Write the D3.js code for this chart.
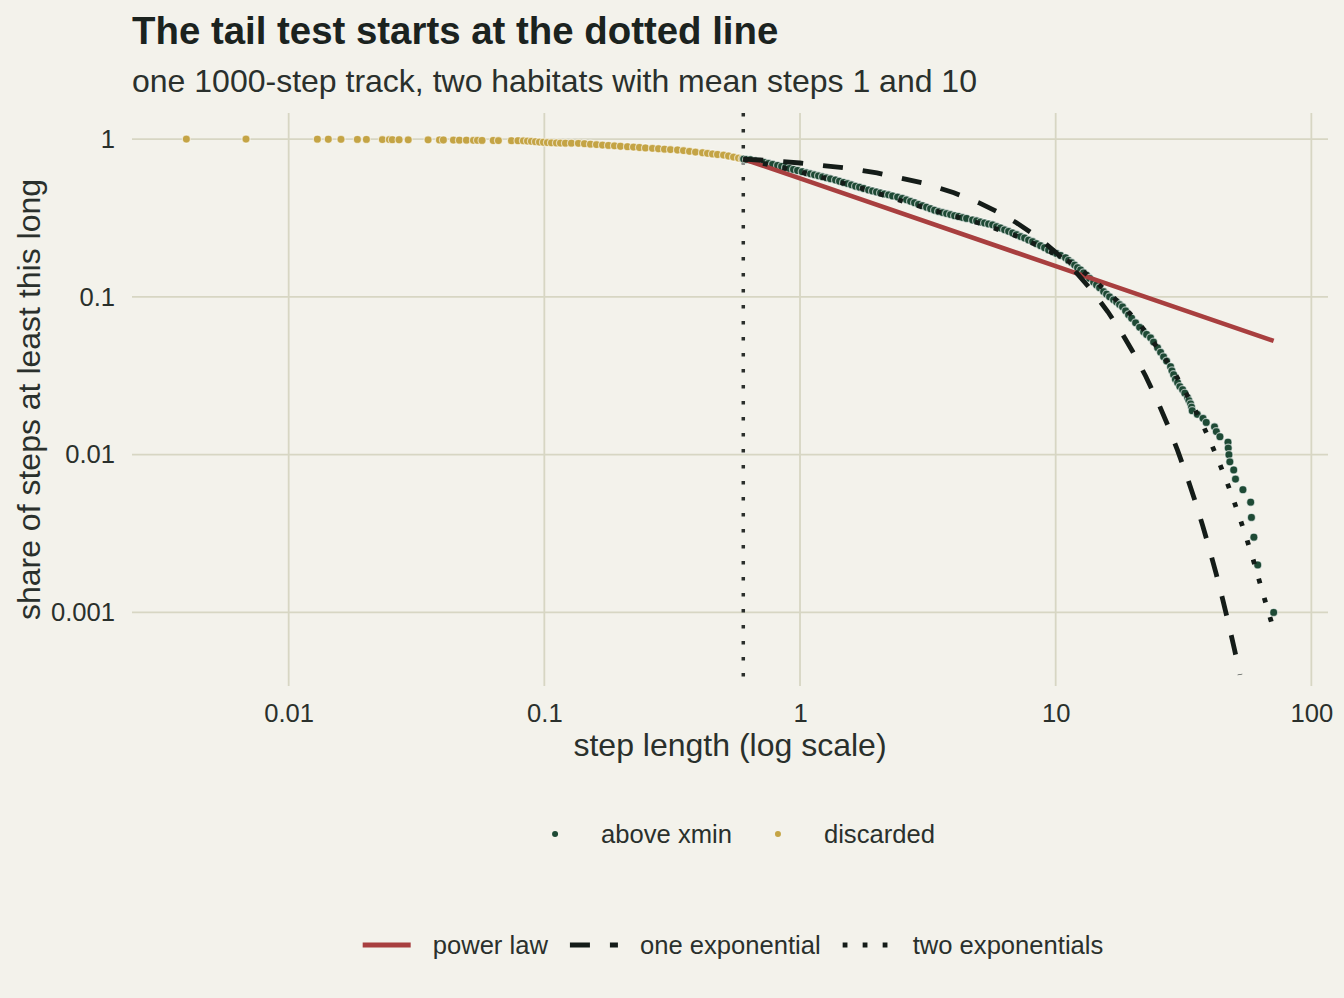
<!DOCTYPE html>
<html>
<head>
<meta charset="utf-8">
<script src="https://cdn.jsdelivr.net/npm/d3@7"></script>
<style>
  body { margin: 0; background: #f3f2eb; }
  svg { display: block; font-family: "Liberation Sans", Arial, Helvetica, sans-serif; }
</style>
</head>
<body>
<div id="chart"></div>
<script>
// [step length, share of steps at least this long]
const discarded = [
  [0.00398, 1.000], [0.00681, 0.999], [0.01295, 0.998], [0.01429, 0.997], [0.01602, 0.996],
  [0.01857, 0.995], [0.02014, 0.994], [0.02326, 0.993], [0.02477, 0.992], [0.02544, 0.991],
  [0.02703, 0.990], [0.02935, 0.989], [0.0351, 0.988], [0.03888, 0.987], [0.04029, 0.986],
  [0.04409, 0.985], [0.04654, 0.984], [0.04957, 0.983], [0.05281, 0.982], [0.05475, 0.981],
  [0.05706, 0.980], [0.06311, 0.979], [0.06613, 0.978], [0.07433, 0.977], [0.07888, 0.976],
  [0.0828, 0.975], [0.0859, 0.971], [0.0890, 0.967], [0.0923, 0.963], [0.0957, 0.957],
  [0.0992, 0.954], [0.1028, 0.950], [0.1066, 0.947], [0.1115, 0.945], [0.1156, 0.943],
  [0.1209, 0.942], [0.1276, 0.941], [0.1359, 0.939], [0.1435, 0.934], [0.1515, 0.928],
  [0.1599, 0.923], [0.1688, 0.916], [0.1781, 0.911], [0.1880, 0.906], [0.1985, 0.900],
  [0.2114, 0.894], [0.2232, 0.889], [0.2355, 0.884], [0.2486, 0.878], [0.2648, 0.873],
  [0.2795, 0.868], [0.2950, 0.863], [0.3114, 0.858], [0.3317, 0.852], [0.3501, 0.845],
  [0.3695, 0.836], [0.3901, 0.827], [0.4155, 0.819], [0.4346, 0.812], [0.4546, 0.805],
  [0.4756, 0.798], [0.5021, 0.792], [0.5253, 0.781], [0.5493, 0.769], [0.5746, 0.758],
  [0.594, 0.749]
];

const aboveXmin = [
  [0.602, 0.747], [0.618, 0.743], [0.640, 0.739], [0.670, 0.728], [0.694, 0.720],
  [0.726, 0.710], [0.753, 0.702], [0.781, 0.692], [0.817, 0.680], [0.847, 0.670],
  [0.878, 0.660], [0.910, 0.651], [0.943, 0.641], [0.978, 0.632], [1.020, 0.621],
  [1.060, 0.611], [1.099, 0.602], [1.139, 0.593], [1.181, 0.585], [1.225, 0.576],
  [1.270, 0.568], [1.316, 0.560], [1.377, 0.550], [1.427, 0.541], [1.480, 0.531],
  [1.534, 0.522], [1.590, 0.513], [1.649, 0.503], [1.709, 0.495], [1.772, 0.486],
  [1.854, 0.476], [1.921, 0.469], [1.992, 0.462], [2.065, 0.455], [2.141, 0.449],
  [2.220, 0.443], [2.301, 0.436], [2.407, 0.429], [2.511, 0.421], [2.610, 0.412],
  [2.706, 0.403], [2.805, 0.395], [2.908, 0.386], [3.015, 0.378], [3.126, 0.370],
  [3.241, 0.362], [3.359, 0.354], [3.483, 0.347], [3.611, 0.342], [3.743, 0.337],
  [3.880, 0.332], [4.023, 0.327], [4.171, 0.323], [4.324, 0.318], [4.482, 0.314],
  [4.731, 0.307], [4.904, 0.303], [5.084, 0.298], [5.271, 0.294], [5.464, 0.290],
  [5.665, 0.286], [5.873, 0.279], [6.088, 0.273], [6.312, 0.266], [6.543, 0.260],
  [6.784, 0.254], [7.031, 0.248], [7.290, 0.241], [7.557, 0.236], [7.834, 0.229],
  [8.121, 0.224], [8.420, 0.217], [8.729, 0.211], [9.049, 0.205], [9.380, 0.198],
  [9.725, 0.193], [10.08, 0.188], [10.45, 0.183], [10.93, 0.177], [11.23, 0.170],
  [11.54, 0.165], [11.86, 0.159], [12.18, 0.153], [12.52, 0.148], [12.86, 0.142],
  [13.21, 0.137], [13.57, 0.131], [14.07, 0.124], [14.45, 0.119], [14.85, 0.114],
  [15.40, 0.108], [15.82, 0.104], [16.25, 0.100], [16.85, 0.0958], [17.31, 0.0926],
  [17.78, 0.0894], [18.26, 0.0864], [18.77, 0.0815], [19.28, 0.0769], [19.82, 0.0732],
  [20.54, 0.0685], [21.30, 0.0641], [22.08, 0.0600], [22.68, 0.0578], [23.51, 0.0550],
  [24.15, 0.0517], [25.04, 0.0475], [25.73, 0.0445], [26.43, 0.0417], [27.16, 0.0392],
  [28.15, 0.0361], [28.5, 0.034], [28.93, 0.0321], [29.4, 0.030], [29.99, 0.0286],
  [30.6, 0.027], [31.37, 0.0258], [32.0, 0.0245], [32.81, 0.0229], [33.2, 0.022],
  [33.7, 0.021], [34.0, 0.020], [34.2, 0.019], [35.8, 0.018], [37.7, 0.017],
  [38.8, 0.016], [41.8, 0.015], [42.5, 0.014], [43.9, 0.013], [47.2, 0.012],
  [47.3, 0.011], [47.6, 0.010], [48.0, 0.009], [49.7, 0.008], [50.5, 0.007],
  [54.0, 0.006], [57.9, 0.005], [58.3, 0.004], [59.6, 0.003], [61.7, 0.002],
  [71.2, 0.001]
];

// fitted curves
const powerLaw = [[0.6, 0.747], [1, 0.563], [10, 0.1565], [71.2, 0.0526]];

const oneExp = [
  [0.6, 0.747], [0.8, 0.726], [1, 0.705], [1.5, 0.656], [2, 0.610], [3, 0.528],
  [4, 0.457], [5, 0.395], [6, 0.342], [7, 0.296], [8, 0.256], [9, 0.2215],
  [10, 0.1917], [12, 0.1435], [14, 0.1075], [16, 0.0804], [18, 0.0602], [20, 0.0451],
  [22.5, 0.0314], [25, 0.0219], [27.5, 0.01525], [30, 0.0106], [32.5, 0.00739],
  [35, 0.00515], [37.5, 0.00359], [40, 0.0025], [42.5, 0.00174], [45, 0.00121],
  [47.5, 0.000843], [50, 0.000587], [52.6, 0.000403]
];

const twoExp = [
  [0.601, 0.747], [0.878, 0.6525], [1.258, 0.564], [1.804, 0.480], [2.587, 0.398],
  [3.643, 0.339], [5.224, 0.288], [7.422, 0.235], [10.26, 0.1825], [12.18, 0.1555],
  [13.91, 0.1294], [16.01, 0.1071], [18.39, 0.0868], [20.73, 0.0705], [23.36, 0.0556],
  [25.96, 0.0436], [28.85, 0.0340], [31.57, 0.0263], [34.54, 0.0202], [37.56, 0.01555],
  [40.48, 0.01186], [43.51, 0.00899], [46.63, 0.00678], [49.66, 0.00514], [52.75, 0.00388],
  [55.84, 0.00293], [59.10, 0.00219], [62.21, 0.00164], [65.49, 0.00123], [69.31, 0.000903],
  [71.2, 0.00078]
];

const xmin = 0.6;
const xTicks = [0.01, 0.1, 1, 10, 100];
const xTickLabels = ["0.01", "0.1", "1", "10", "100"];
const yTicks = [1, 0.1, 0.01, 0.001];
const yTickLabels = ["1", "0.1", "0.01", "0.001"];
const yLimits = [5e-4, 1];

const width = 1344, height = 998;
const panel = { left: 132, right: 1328, top: 113, bottom: 686 };

const bg = "#f3f2eb", gridCol = "#d7d6c3", ink = "#1b231f", textCol = "#2a302c";
const green = "#1e4a35", gold = "#c4a445", red = "#a83f3f", dark = "#141c18";

// ggplot-style 5% expansion, in log space
function expandLog(lo, hi, mult) {
  const a = Math.log10(lo), b = Math.log10(hi), pad = (b - a) * mult;
  return [Math.pow(10, a - pad), Math.pow(10, b + pad)];
}

const allX = discarded.concat(aboveXmin).map(d => d[0]);
const x = d3.scaleLog()
  .domain(expandLog(d3.min(allX), d3.max(allX), 0.05))
  .range([panel.left, panel.right]);
const y = d3.scaleLog()
  .domain(expandLog(yLimits[0], yLimits[1], 0.05))
  .range([panel.bottom, panel.top]);

const svg = d3.select("#chart")
  .append("svg")
  .attr("width", width)
  .attr("height", height);

svg.append("rect").attr("width", width).attr("height", height).attr("fill", bg);

svg.append("clipPath").attr("id", "panel-clip")
  .append("rect")
  .attr("x", panel.left).attr("y", panel.top)
  .attr("width", panel.right - panel.left)
  .attr("height", panel.bottom - panel.top);

// grid
const grid = svg.append("g").attr("stroke", gridCol).attr("stroke-width", 1.8);
grid.selectAll("line.v").data(xTicks).join("line")
  .attr("class", "v")
  .attr("x1", d => x(d)).attr("x2", d => x(d))
  .attr("y1", panel.top).attr("y2", panel.bottom);
grid.selectAll("line.h").data(yTicks).join("line")
  .attr("class", "h")
  .attr("x1", panel.left).attr("x2", panel.right)
  .attr("y1", d => y(d)).attr("y2", d => y(d));

// axes (labels only)
const xAxis = svg.append("g")
  .attr("transform", `translate(0,${panel.bottom})`)
  .call(d3.axisBottom(x).tickValues(xTicks).tickFormat((d, i) => xTickLabels[i]).tickSize(0).tickPadding(18));
const yAxis = svg.append("g")
  .attr("transform", `translate(${panel.left},0)`)
  .call(d3.axisLeft(y).tickValues(yTicks).tickFormat((d, i) => yTickLabels[i]).tickSize(0).tickPadding(17));
[xAxis, yAxis].forEach(g => {
  g.select(".domain").remove();
  g.attr("font-family", null).attr("font-size", null);
  g.selectAll("text").attr("font-size", 25.6).attr("fill", textCol);
});

// xmin marker
svg.append("line")
  .attr("x1", x(xmin)).attr("x2", x(xmin))
  .attr("y1", panel.top).attr("y2", panel.bottom)
  .attr("stroke", "#2b2f2c")
  .attr("stroke-width", 3.5)
  .attr("stroke-dasharray", "3.5,12.5");

// points
const pts = svg.append("g").attr("clip-path", "url(#panel-clip)");
function drawPoints(data, fill) {
  pts.append("g")
    .selectAll("circle")
    .data(data)
    .join("circle")
    .attr("cx", d => x(d[0]))
    .attr("cy", d => y(d[1]))
    .attr("r", 4)
    .attr("fill", fill)
    .attr("stroke", "#ffffff")
    .attr("stroke-opacity", 0.6)
    .attr("stroke-width", 1.2);
}
drawPoints(discarded, gold);
drawPoints(aboveXmin, green);

// fitted lines
const line = d3.line().x(d => x(d[0])).y(d => y(d[1]));
const fits = svg.append("g").attr("clip-path", "url(#panel-clip)").attr("fill", "none");
fits.append("path").datum(powerLaw).attr("d", line)
  .attr("stroke", red).attr("stroke-width", 4.6);
fits.append("path").datum(oneExp).attr("d", line)
  .attr("stroke", dark).attr("stroke-width", 4.8).attr("stroke-dasharray", "20,20");
fits.append("path").datum(twoExp).attr("d", line)
  .attr("stroke", dark).attr("stroke-width", 4.8).attr("stroke-dasharray", "4.8,15.2");

// titles
svg.append("text").attr("x", 132).attr("y", 44)
  .attr("font-size", 38.4).attr("font-weight", "bold").attr("fill", ink)
  .text("The tail test starts at the dotted line");
svg.append("text").attr("x", 132).attr("y", 92)
  .attr("font-size", 32).attr("fill", textCol)
  .text("one 1000-step track, two habitats with mean steps 1 and 10");
svg.append("text").attr("x", (panel.left + panel.right) / 2).attr("y", 756)
  .attr("text-anchor", "middle").attr("font-size", 32).attr("fill", textCol)
  .text("step length (log scale)");
svg.append("text")
  .attr("transform", `translate(40,${(panel.top + panel.bottom) / 2}) rotate(-90)`)
  .attr("text-anchor", "middle").attr("font-size", 32).attr("fill", textCol)
  .text("share of steps at least this long");

// legends
const legendCenter = 733, keyW = 48, keyGap = 22, itemGap = 22;
function legendRow(items, cy) {
  const g = svg.append("g");
  const row = items.map(it => {
    const t = g.append("text").attr("font-size", 25.6).attr("fill", textCol)
      .attr("dominant-baseline", "central").attr("y", cy).text(it.label);
    return { it, t, w: t.node().getComputedTextLength() };
  });
  const total = d3.sum(row, r => keyW + keyGap + r.w) + itemGap * (row.length - 1);
  let cx = legendCenter - total / 2;
  row.forEach(r => {
    r.it.key(g, cx, cy);
    r.t.attr("x", cx + keyW + keyGap);
    cx += keyW + keyGap + r.w + itemGap;
  });
}
const dotKey = fill => (g, x0, cy) => g.append("circle")
  .attr("cx", x0 + keyW / 2).attr("cy", cy).attr("r", 3).attr("fill", fill);
const lineKey = (stroke, dash) => (g, x0, cy) => g.append("line")
  .attr("x1", x0).attr("x2", x0 + keyW).attr("y1", cy).attr("y2", cy)
  .attr("stroke", stroke).attr("stroke-width", 4.8)
  .attr("stroke-dasharray", dash);

legendRow([
  { label: "above xmin", key: dotKey(green) },
  { label: "discarded", key: dotKey(gold) }
], 834);
legendRow([
  { label: "power law", key: lineKey(red, null) },
  { label: "one exponential", key: lineKey(dark, "20,20") },
  { label: "two exponentials", key: lineKey(dark, "4.8,15.2") }
], 945);
</script>
</body>
</html>
